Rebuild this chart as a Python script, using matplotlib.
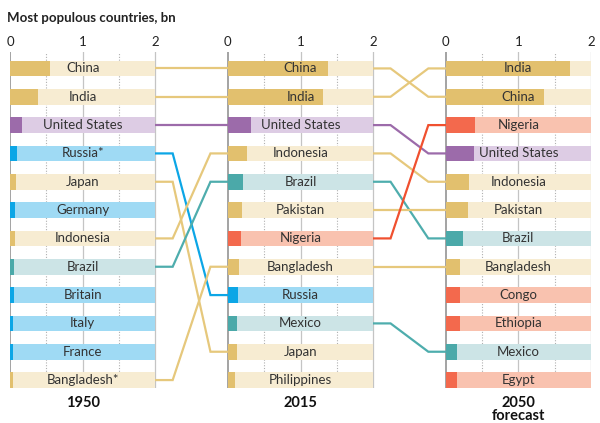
import matplotlib
matplotlib.use("Agg")
import matplotlib.pyplot as plt

plt.rcParams['font.family'] = ['Lato', 'DejaVu Sans']

# data, billions
countries_1950 = ["China", "India", "United States", "Russia*", "Japan", "Germany",
                  "Indonesia", "Brazil", "Britain", "Italy", "France", "Bangladesh*"]
pop_1950 = [0.55, 0.38, 0.16, 0.10, 0.08, 0.07, 0.07, 0.05, 0.05, 0.046, 0.042, 0.038]
region_1950 = ["asia", "asia", "us", "europe", "asia", "europe",
               "asia", "latam", "europe", "europe", "europe", "asia"]

countries_2015 = ["China", "India", "United States", "Indonesia", "Brazil", "Pakistan",
                  "Nigeria", "Bangladesh", "Russia", "Mexico", "Japan", "Philippines"]
pop_2015 = [1.38, 1.31, 0.32, 0.26, 0.21, 0.19, 0.18, 0.16, 0.14, 0.13, 0.13, 0.10]
region_2015 = ["asia", "asia", "us", "asia", "latam", "asia",
               "africa", "asia", "europe", "latam", "asia", "asia"]

countries_2050 = ["India", "China", "Nigeria", "United States", "Indonesia", "Pakistan",
                  "Brazil", "Bangladesh", "Congo", "Ethiopia", "Mexico", "Egypt"]
pop_2050 = [1.71, 1.35, 0.40, 0.39, 0.32, 0.31, 0.24, 0.20, 0.19, 0.19, 0.16, 0.15]
region_2050 = ["asia", "asia", "africa", "us", "asia", "asia",
               "latam", "asia", "africa", "africa", "latam", "africa"]

year_labels = ["1950", "2015", "2050\nforecast"]
ticks = [0, 1, 2]

# styles: (dark bar, light background, connector line)
colors = {
    "asia":   ("#E2C06E", "#F7ECD2", "#E6C87C"),
    "us":     ("#9C6BAA", "#DDCCE4", "#9C6BAA"),
    "europe": ("#0CA6E6", "#9FDAF4", "#0CA6E6"),
    "latam":  ("#4BA9A9", "#CCE4E6", "#4EADAD"),
    "africa": ("#F3694D", "#F9C2AF", "#F0502F"),
}

panels = [(countries_1950, pop_1950, region_1950),
          (countries_2015, pop_2015, region_2015),
          (countries_2050, pop_2050, region_2050)]
offsets = [0, 3, 6]
bar_h = 0.55

fig = plt.figure(figsize=(6, 4.23), dpi=100)
ax = fig.add_axes([10 / 600, 35 / 423, 581 / 600, 336 / 423])
ax.set_xlim(0, 8)
ax.set_ylim(11.28, -0.58)
ax.axis("off")

for k, (names, vals, regs) in enumerate(panels):
    off = offsets[k]
    # grid
    ax.axvline(off, color="#8a8a8a", lw=1.1, zorder=1)
    ax.axvline(off + 1, color="#c4c4c4", lw=0.9, zorder=1)
    ax.axvline(off + 2, color="#c4c4c4", lw=0.9, zorder=1)
    for g in (0.5, 1.5):
        ax.axvline(off + g, color="#b0b0b0", lw=0.8, ls=(0, (1, 1.5)), zorder=1)
    rows = range(len(names))
    ax.barh(rows, [2] * len(names), left=off, height=bar_h,
            color=[colors[r][1] for r in regs], zorder=2)
    ax.barh(rows, vals, left=off, height=bar_h,
            color=[colors[r][0] for r in regs], zorder=3)
    for i, n in enumerate(names):
        ax.text(off + 1, i, n, ha="center", va="center", fontsize=9.5,
                color="#333333", zorder=4)
    for t in ticks:
        ax.text(off + t, -0.92, str(t), ha="center", va="center", fontsize=9.5,
                color="#222222")
    ax.text(off + 1, 11.58, year_labels[k], ha="center", va="top", fontsize=10.5,
            fontweight="bold", color="#111111", linespacing=0.85)

# connectors between panels
for k in range(2):
    names_a, _, regs_a = panels[k]
    names_b = [n.rstrip("*") for n in panels[k + 1][0]]
    x0 = offsets[k] + 2
    x1 = offsets[k + 1]
    for i, n in enumerate(names_a):
        key = n.rstrip("*")
        if key not in names_b:
            continue
        j = names_b.index(key)
        ax.plot([x0, x0 + 0.24, x1 - 0.24, x1], [i, i, j, j],
                color=colors[regs_a[i]][2], lw=1.6, zorder=1,
                solid_joinstyle="miter")

fig.text(7 / 600, 1 - 18 / 423, "Most populous countries, bn", ha="left", va="center",
         fontsize=9.5, fontweight="bold", color="#222222")

fig.savefig("out.png", dpi=100, facecolor="white")
